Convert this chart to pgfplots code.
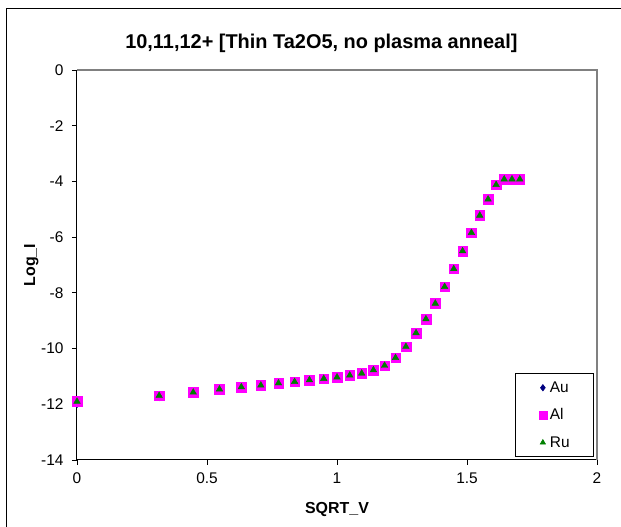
\documentclass[border=0pt]{standalone}
\usepackage{fontspec}
\setmainfont{Liberation Sans}
\usepackage{pgfplots}
\pgfplotsset{compat=1.18}

\definecolor{auc}{RGB}{0,0,128}
\definecolor{alc}{RGB}{255,0,255}
\definecolor{ruc}{RGB}{0,128,0}
\definecolor{framegray}{RGB}{128,128,128}

% SQRT_V  Log_I
\pgfplotstableread{
x      au      al      ru
0.000  -12.00  -11.90  -11.90
0.316  -11.75  -11.69  -11.69
0.447  -11.63  -11.57  -11.57
0.548  -11.52  -11.46  -11.46
0.632  -11.41  -11.38  -11.38
0.707  -11.35  -11.32  -11.32
0.775  -11.27  -11.24  -11.24
0.837  -11.22  -11.19  -11.19
0.894  -11.16  -11.13  -11.13
0.949  -11.11  -11.08  -11.08
1.000  -11.05  -11.03  -11.03
1.049  -10.98  -10.96  -10.96
1.095  -10.91  -10.89  -10.89
1.140  -10.79  -10.77  -10.77
1.183  -10.63  -10.61  -10.61
1.225  -10.35  -10.33  -10.33
1.265  -9.95   -9.93   -9.93
1.304  -9.48   -9.44   -9.44
1.342  -8.96   -8.94   -8.94
1.378  -8.43   -8.38   -8.38
1.414  -7.80   -7.78   -7.78
1.449  -7.16   -7.14   -7.14
1.483  -6.52   -6.50   -6.50
1.517  -5.86   -5.84   -5.84
1.549  -5.27   -5.22   -5.22
1.581  -4.66   -4.64   -4.64
1.612  -4.14   -4.12   -4.12
1.643  -3.94   -3.92   -3.92
1.673  -3.94   -3.92   -3.92
1.703  -3.94   -3.92   -3.92
}\datatable

\begin{document}
\begin{tikzpicture}[x=1bp,y=1bp]
\begin{axis}[
    at={(0,0)}, anchor=south west,
    scale only axis,
    width=520bp, height=390bp,
    xmin=0, xmax=2, ymin=-14, ymax=0,
    xtick={0,0.5,1,1.5,2},
    ytick={-14,-12,-10,-8,-6,-4,-2,0},
    axis x line*=bottom, axis y line*=left,
    tick align=outside,
    major tick length=5bp,
    tick style={black, line width=0.8bp},
    axis line style={black, line width=1bp, -},
    /pgf/number format/assume math mode=true,
    tick label style={font=\fontsize{15.5}{17}\selectfont},
    xticklabel style={yshift=-4bp},
    yticklabel style={xshift=-5bp},
    title={\bfseries 10,11,12+ [Thin Ta2O5, no plasma anneal]},
    title style={font=\fontsize{20}{22}\selectfont, at={(axis description cs:0.47,1.053)}, anchor=center},
    xlabel={\bfseries SQRT\_V},
    ylabel={\bfseries Log\_I},
    label style={font=\fontsize{16}{18}\selectfont},
    xlabel style={at={(axis description cs:0.5,-0.126)}, anchor=center},
    ylabel style={at={(axis description cs:-0.088,0.5)}, anchor=center},
    legend image code/.code={\path[draw=none,fill=none] (-6bp,0bp) -- (5bp,0bp); \draw[#1] plot coordinates {(0bp,0bp)};},
    legend style={at={(axis description cs:0.994,0.008)}, anchor=south east,
        draw=black, line width=0.6bp, font=\fontsize{15.5}{17}\selectfont,
        row sep=11bp, inner xsep=22bp, inner ysep=6bp},
    legend cell align=left,
    clip=false,
]
\draw[framegray, line width=1.2bp] (rel axis cs:0,1) -- (rel axis cs:1,1) -- (rel axis cs:1,0);
\addplot[only marks, mark=diamond*, mark size=3.5bp, color=auc,
    legend image post style={mark size=3.2bp}] table[x=x, y=au] {\datatable};
\addlegendentry{Au}
\addplot[only marks, mark=square*, mark size=4.8bp, color=alc,
    legend image post style={mark size=4bp}] table[x=x, y=al] {\datatable};
\addlegendentry{Al}
\addplot[only marks, mark=triangle*, mark size=3.8bp, color=ruc,
    legend image post style={mark size=3bp}] table[x=x, y=ru] {\datatable};
\addlegendentry{Ru}
\end{axis}
\draw[black, line width=1bp] (-70,-67) -- (-70,451) -- (544,451);
\pgfresetboundingbox
\useasboundingbox (-77,-67) rectangle (544,460);
\end{tikzpicture}
\end{document}
